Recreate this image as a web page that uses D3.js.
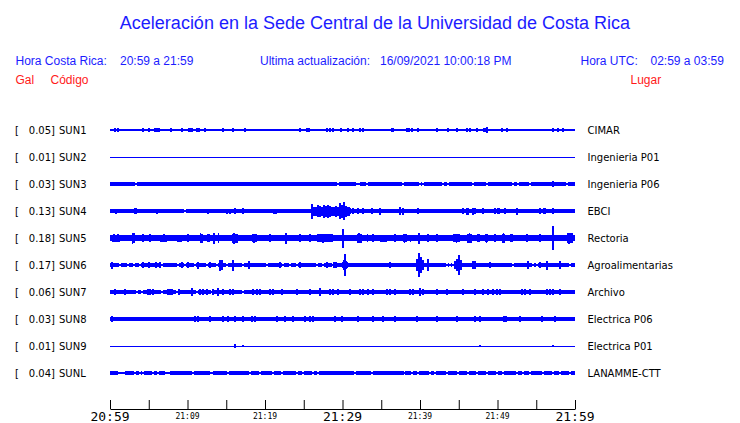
<!DOCTYPE html>
<html><head><meta charset="utf-8">
<script src="https://cdn.jsdelivr.net/npm/d3@7"></script>
<style>body{margin:0;background:#fff}svg{display:block}</style>
</head><body>
<script>
// ---------- data ----------
const stations = ["SUN1","SUN2","SUN3","SUN4","SUN5","SUN6","SUN7","SUN8","SUN9","SUNL"];
const galValues = [0.05,0.01,0.03,0.13,0.18,0.17,0.06,0.03,0.01,0.04];
const places = ["CIMAR","Ingenieria P01","Ingenieria P06","EBCI","Rectoria","Agroalimentarias","Archivo","Electrica P06","Electrica P01","LANAMME-CTT"];
// background noise half-amplitude of each trace (relative units)
const noiseLevel = [0.6,0.5,1.9,1.9,2.6,1.9,1.9,2.3,0.5,1.6];
const tickMinutes = [0,5,10,15,20,25,30,35,40,45,50,55,60];
const labelMinutes = [0,10,20,30,40,50,60];
const tickLabels = ["20:59","21:09","21:19","21:29","21:39","21:49","21:59"];
const majorLabels = ["20:59","21:29","21:59"];

// spikes: [minute after 20:59, half-amplitude, duration(min, optional)]
const spikesSUN1 = [[0.65,1.8],[1.0,2.2,0.3],[4.26,1.8],[5.03,1.8],[5.94,2.0,0.4],[6.32,1.8],[7.87,1.8],[9.29,1.8],[10.2,2.4,0.4],[10.58,1.8],[11.23,1.8],[11.48,1.8],[12.26,1.8],[14.58,1.8],[15.9,2.0,0.3],[17.42,1.8],[24.52,1.8],[25.42,1.8],[25.7,1.8,0.3],[28.0,1.8],[28.39,1.8],[28.77,1.8],[29.81,1.8],[30.71,1.8],[31.35,1.8],[32.26,1.8],[32.65,1.8],[36.39,1.9],[36.6,1.8],[38.4,2.0,0.5],[38.97,1.8],[39.74,1.8],[42.19,1.8],[43.61,1.8],[44.77,1.8],[46.06,1.8],[46.45,1.8],[47.35,1.8],[48.3,1.9,0.4],[48.65,3.3],[50.58,1.8],[51.23,1.8],[57.16,1.8],[57.81,1.8],[58.45,1.8]];
const spikesSUN2 = [];
const spikesSUN3 = [[57.16,2.8]];
const spikesSUN4 = [[0.77,2.5],[3.3,2.7,0.3],[4.26,2.4],[6.06,2.5],[9.94,2.4],[12.65,2.5],[13.55,2.4,0.4],[15.1,2.5],[15.48,2.5],[16.13,2.8],[16.39,2.4],[17.16,2.9],[19.1,2.4],[21.3,2.5,0.5],[23.87,2.4],
 [26.06,7.5],[26.32,4.5],[26.58,4],[26.84,6],[27.1,5.5],[27.35,4.5],[27.61,6.5],[27.87,5.5],[28.13,6.5],[28.39,5.5],[28.65,4.5],[28.9,4.5],[29.16,5.5],[29.42,4.5],[29.68,8],[29.94,6.5],[30.19,9],[30.45,5.5],[30.71,3.5],[30.97,3],
 [31.35,3],[32.0,3],[32.65,3],[33.81,2.8],[34.84,3.5],[37.42,4],[37.81,3.5],[39.74,3],[45.55,3],[46.1,3.5,0.4],[46.84,3.5],[47.1,3],[48.13,2.6],[49.68,3],[50.1,2.8,0.4],[50.97,3],[52.52,3.5],[55.48,2.6],[56.1,2.6,0.4],[57.16,2.6]];
const spikesSUN5 = [[0.5,4],[1.0,4],[2.9,5.5],[3.1,5],[4.26,3.8],[5.16,3.8],[7.0,4],[10.06,3.8],[11.7,5],[13.4,5.5],[16.0,5.5],[16.3,4.5],[18.6,4.5],[20.65,3.8],[22.7,5.5],[24.52,3.8],[25.81,3.8],[27.5,4.5],[30.06,9.5],[32.1,5],[33.2,4],[36.77,3.8],[38.0,4.5],[39.87,5.5],[41.03,3.8],[42.19,3.8],[44.7,4.5],[46.4,5],[48.6,4.5],[49.68,3.8],[50.8,5],[53.81,3.8],[55.48,4],[57.16,12],[59.2,5.5],[59.6,4.5]];
const spikesSUN6 = [[0.26,3.5],[4.26,2.6],[5.0,2.6],[5.94,2.6],[6.45,2.6],[9.29,2.6],[10.06,3],[11.35,3.5],[12.9,2.6],[14.19,5.5],[14.45,5],[15.87,5.5],[17.94,4],[21.94,2.6],[24.52,2.6],[28.0,2.6],[28.9,3.2],[29.16,3.2],[30.19,5],[30.32,11],[30.45,4],[36.13,3],[39.61,6],[39.87,12],[40.13,8],[40.39,5],[41.03,6],[44.52,4],[44.77,6],[45.03,10],[45.29,5],[46.84,3.8],[47.1,3.8],[49.03,3],[53.94,3.8],[55.48,3],[56.39,4.5],[58.06,3.8]];
const spikesSUN7 = [[0.65,2.8],[1.94,2.8],[4.9,2.8],[5.16,2.8],[5.55,2.8],[7.48,2.8],[7.74,2.8],[8.0,2.8],[8.9,2.8],[10.58,3.7],[11.61,2.8],[12.0,2.8],[12.52,2.8],[13.29,2.8],[13.94,3.7],[14.58,2.8],[15.48,2.8],[15.87,2.8],[18.45,2.8],[18.97,2.8],[19.35,2.8],[20.65,2.8],[21.03,2.8],[22.19,2.8],[24.13,2.8],[25.81,2.8],[27.1,3.7],[28.39,2.8],[28.77,2.8],[29.42,2.8],
 [30.97,2.8],[32.26,2.8],[32.65,2.8],[33.29,2.8],[33.94,2.8],[35.74,2.8],[36.13,2.8],[36.77,2.8],[38.71,2.8],[39.1,2.8],[40.0,3.7],[40.39,2.8],[42.19,2.8],[43.48,2.8],[45.55,2.8],[47.1,2.8],[48.13,2.8],[48.77,2.8],[49.42,2.8],[49.94,2.8],[50.32,2.8],[53.16,2.8],[53.55,2.8],[54.19,2.8],[56.39,2.8],[56.77,2.8],[57.16,2.8],[58.06,2.8]];
const spikesSUN8 = [[0.26,3.2,0.3],[10.97,2.9],[11.35,2.9],[12.9,2.9],[14.58,2.9],[15.23,2.9],[16.13,3.3],[17.16,2.9],[18.32,2.9],[18.71,2.9],[21.55,2.9],[22.58,2.9],[23.61,2.9],[25.16,2.9],[25.81,2.9],[26.19,2.9],[29.03,2.9],[29.94,2.9],[32.0,2.9],[33.94,2.9],[35.23,2.9],[36.77,2.9],[39.61,2.9],[42.19,2.9],[44.77,2.9],[47.1,2.9],[47.74,2.9],[50.97,3.3,0.5],[52.9,2.9],[55.74,2.9],[57.42,2.9]];
const spikesSUN9 = [[16.13,1.8],[17.16,1.3],[47.74,1],[57.16,1]];
const spikesSUNL = [[0.4,2.2,0.3],[35.9,2.1],[37.6,2.1],[38.2,2.1],[38.6,2.1]];

// bursts of sustained shaking: [start minute, end minute, half-amplitude]
const burstsSUN4 = [[26.0,31.0,4.5]];
const burstsSUN5 = [[0.2,1.3,3.5],[2.84,3.23,5],[6.45,7.35,3.5],[8.65,9.29,3.5],[11.6,12.0,4.5],[12.5,12.9,4],[13.29,13.5,5],[13.94,14.1,5],[15.74,16.52,4.5],[18.32,18.97,4],[22.58,22.84,5],[26.71,28.77,4],[31.87,32.52,4.5],[33.81,34.0,4],[34.84,35.74,3.5],[37.81,38.32,4],[38.71,38.8,3.5],[39.74,40.0,5],[44.26,45.16,4],[46.06,46.71,4.5],[47.35,47.74,4],[48.39,48.77,4],[50.58,50.97,4.5],[51.61,52.0,4],[58.97,59.74,5]];
const burstsSUN6 = [[14.1,14.6,3],[29.9,30.7,3],[39.5,40.3,3],[44.4,45.4,3]];

// quieter moments (thinner trace): [minute, duration]
const quietSUN3 = [[3.35,0.3],[29.42,0.2],[31.87,0.15],[32.13,0.15],[33.16,0.15],[37.81,0.15],[40.0,0.15],[40.39,0.15],[42.97,0.15],[43.61,0.15],[46.84,0.15],[48.65,0.15],[52.0,0.15],[52.65,0.15],[54.19,0.15],[58.97,0.15]];
const quietSUN4 = [[9.68,0.3]];
const quietSUN6 = [[1.29,0.2],[2.32,0.2],[3.1,0.2],[3.87,0.2],[6.71,0.2],[8.77,0.2],[9.68,0.2],[10.97,0.2],[12.52,0.2],[13.81,0.2],[15.1,0.2],[17.16,0.2],[20.26,0.2],[22.32,0.2],[23.23,0.2],[24.13,0.2],[26.71,0.2],[27.48,0.2],[28.77,0.2],[43.48,0.2],[43.87,0.2],[44.26,0.2],[52.0,0.2],[54.58,0.2],[55.1,0.2],[59.35,0.2]];
const quietSUN7 = [[3.48,0.2],[4.13,0.2],[6.71,0.2],[8.65,0.2],[11.23,0.2],[13.16,0.2],[17.16,0.2]];
const quietSUNL = [[1.5,0.9],[3.23,0.15],[3.87,0.15],[4.26,0.15],[5.55,0.15],[6.19,0.15],[7.4,0.6],[10.71,0.15],[13.1,0.4],[15.23,0.15],[18.06,0.15],[19.35,0.15],[21.03,0.15],[22.19,0.15],[24.13,0.15],[24.9,0.15],[26.19,0.15],[26.84,0.15],[31.61,0.2],[33.81,0.2],[38.06,0.15],[38.97,0.15],[39.74,0.15],[41.29,0.15],[41.94,0.15],[43.48,0.15],[44.9,0.15],[46.19,0.15],[47.35,0.15],[48.65,0.15],[49.94,0.15],[50.71,0.15],[52.52,0.15],[53.29,0.15],[54.19,0.15],[55.87,0.15],[57.16,0.15],[58.06,0.15],[59.35,0.15]];

const spikes = [spikesSUN1,spikesSUN2,spikesSUN3,spikesSUN4,spikesSUN5,spikesSUN6,spikesSUN7,spikesSUN8,spikesSUN9,spikesSUNL];
const bursts = [[],[],[],burstsSUN4,burstsSUN5,burstsSUN6,[],[],[],[]];
const quiet = [[],[],quietSUN3,quietSUN4,[],quietSUN6,quietSUN7,[],[],quietSUNL];

// ---------- drawing ----------
const W = 740, H = 423;
const BLUE = "#0000ff", TXTBLUE = "#1c1cff", RED = "#ff1a1a";
const svg = d3.select("body").append("svg").attr("width", W).attr("height", H);

const x = d3.scaleLinear().domain([0,60]).range([110,575]);
const row = d3.scalePoint().domain(stations).range([130,373]);

// header
svg.append("text").attr("x",375).attr("y",29).attr("text-anchor","middle")
  .attr("font-family","Liberation Sans, Arial, sans-serif").attr("font-size",18).attr("fill",TXTBLUE)
  .text("Aceleración en la Sede Central de la Universidad de Costa Rica");
const hdr = [
  [15.5,65,"Hora Costa Rica:",TXTBLUE],[120,65,"20:59 a 21:59",TXTBLUE],
  [260,65,"Ultima actualización:",TXTBLUE],[380,65,"16/09/2021 10:00:18 PM",TXTBLUE],
  [580.5,65,"Hora UTC:",TXTBLUE],[650.5,65,"02:59 a 03:59",TXTBLUE],
  [15.5,84,"Gal",RED],[50.5,84,"Código",RED],[630.5,84,"Lugar",RED]];
svg.append("g").selectAll("text").data(hdr).join("text")
  .attr("x",d=>d[0]).attr("y",d=>d[1]).attr("fill",d=>d[3])
  .attr("font-family","Liberation Sans, Arial, sans-serif").attr("font-size",12)
  .text(d=>d[2]);

// station labels
const lab = svg.append("g").attr("font-family","DejaVu Sans, sans-serif").attr("font-size",10).attr("fill","#000");
stations.forEach((s,i)=>{
  const y = row(s)+4;
  lab.append("text").attr("x",15).attr("y",y).text("[");
  lab.append("text").attr("x",55).attr("y",y).attr("text-anchor","end").text(galValues[i].toFixed(2)+"]");
  lab.append("text").attr("x",59).attr("y",y).text(s);
  lab.append("text").attr("x",587.5).attr("y",y).text(places[i]);
});

// traces
const traces = svg.append("g").attr("shape-rendering","crispEdges");
stations.forEach((s,i)=>{
  const cy = row(s);
  const y = d3.scaleLinear().domain([-12,12]).range([cy+12, cy-12]);
  const g = traces.append("g");
  const nz = noiseLevel[i];
  g.append("rect").attr("x",x(0)).attr("width",x(60)-x(0))
    .attr("y",y(nz)).attr("height",y(-nz)-y(nz)).attr("fill",BLUE);
  // quiet stretches: trace thins out
  const q = nz*0.45;
  g.selectAll("rect.q").data(quiet[i]).join("rect").attr("class","q")
    .attr("x",d=>x(d[0]-d[1]/2)).attr("width",d=>x(d[1])-x(0))
    .attr("y",y(nz)).attr("height",y(-nz)-y(nz)).attr("fill","#fff");
  g.selectAll("rect.qc").data(quiet[i]).join("rect").attr("class","qc")
    .attr("x",d=>x(d[0]-d[1]/2)).attr("width",d=>x(d[1])-x(0))
    .attr("y",y(q)).attr("height",y(-q)-y(q)).attr("fill",BLUE);
  g.selectAll("rect.b").data(bursts[i]).join("rect").attr("class","b")
    .attr("x",d=>x(d[0])).attr("width",d=>x(d[1])-x(d[0]))
    .attr("y",d=>y(d[2])).attr("height",d=>y(-d[2])-y(d[2])).attr("fill",BLUE);
  g.selectAll("rect.s").data(spikes[i]).join("rect").attr("class","s")
    .attr("x",d=>x(d[0]-(d[2]||0.2)/2)).attr("width",d=>Math.max(1.5,x(d[2]||0.2)-x(0)))
    .attr("y",d=>y(d[1])).attr("height",d=>y(-d[1])-y(d[1])).attr("fill",BLUE);
});

// time axis
const axis = d3.axisBottom(x).tickValues(tickMinutes).tickSize(-9).tickSizeOuter(0).tickFormat("");
const ag = svg.append("g").attr("transform","translate(0,409)").call(axis);
ag.select(".domain").attr("stroke","#000");
ag.selectAll(".tick line").attr("stroke","#000");
const tl = svg.append("g").attr("font-family","DejaVu Sans Mono, monospace").attr("fill","#000");
tl.selectAll("text").data(labelMinutes).join("text")
  .attr("x",d=>x(d)).attr("text-anchor","middle")
  .attr("y",(d,i)=>majorLabels.includes(tickLabels[i]) ? 421 : 418.5)
  .attr("font-size",(d,i)=>majorLabels.includes(tickLabels[i]) ? 13 : 8)
  .text((d,i)=>tickLabels[i]);
</script>
</body></html>
